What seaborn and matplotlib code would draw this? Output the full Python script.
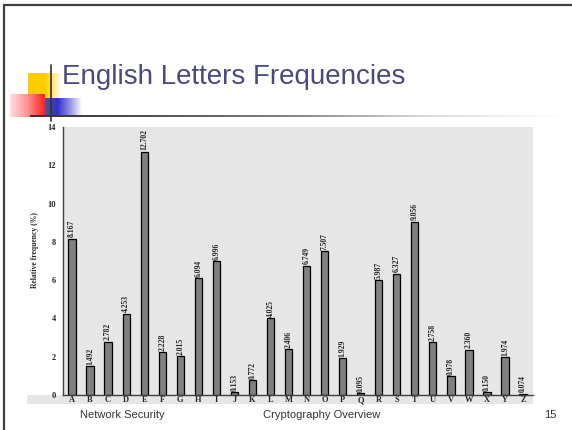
import numpy as np
import matplotlib as mpl
mpl.use('Agg')
import matplotlib.pyplot as plt
from matplotlib.colors import LinearSegmentedColormap
import seaborn as sns

letters = list('ABCDEFGHIJKLMNOPQRSTUVWXYZ')
freqs = [8.167, 1.492, 2.782, 4.253, 12.702, 2.228, 2.015, 6.094, 6.996, 0.153,
         0.772, 4.025, 2.406, 6.749, 7.507, 1.929, 0.095, 5.987, 6.327, 9.056,
         2.758, 0.978, 2.360, 0.150, 1.974, 0.074]
yticks = [0, 2, 4, 6, 8, 10, 12, 14]

title = 'English Letters Frequencies'
footer_left = 'Network Security'
footer_mid = 'Cryptography Overview'
page_no = '15'

sns.set_style('white')
plt.rcParams['font.family'] = ['Liberation Sans', 'DejaVu Sans']

W, H = 572, 430
fig = plt.figure(figsize=(W / 100, H / 100), dpi=100)

# slide decoration layer, in pixel coords
deco = fig.add_axes([0, 0, 1, 1])
deco.set_xlim(0, W)
deco.set_ylim(H, 0)
deco.axis('off')
deco.set_zorder(0)


def grad(x0, x1, y0, y1, colors):
    cmap = LinearSegmentedColormap.from_list('g', colors)
    deco.imshow(np.linspace(0, 1, 256)[None, :], cmap=cmap, aspect='auto',
                extent=(x0, x1, y1, y0), interpolation='bilinear')


# borders
deco.plot([3, W], [5, 5], color='#404040', lw=1.6, solid_capstyle='butt')
deco.plot([4, 4], [4, H], color='#404040', lw=1.6, solid_capstyle='butt')

# title bullet squares
grad(28, 62, 73, 108, ['#ffcc00', '#ffcc00', '#ffcc00', '#ffe680', '#ffffff'])
grad(10, 45, 94, 117, ['#ffe0e0', '#ff9090', '#ff2020'])
grad(45, 82, 98, 117, ['#55558a', '#3030c8', '#9090e8', '#ffffff'])
deco.plot([51, 51], [65, 121], color='#333333', lw=1.2)
grad(30, 565, 115, 117, ['#333333', '#555555', '#888888', '#dddddd', '#ffffff'])

# chart background strip under axis (tick labels)
deco.add_patch(plt.Rectangle((27, 395), 506, 9, color='#e6e6e6', lw=0))

fig.text(62 / W, 1 - 77 / H, title, fontsize=20, color='#4a4a7c',
         va='center', ha='left', family=['Liberation Sans', 'DejaVu Sans'])

# chart
ax = fig.add_axes([63 / W, 1 - 395 / H, (533 - 63) / W, (395 - 127) / H])
ax.set_zorder(1)
ax.set_facecolor('#e6e6e6')
sns.barplot(x=letters, y=freqs, ax=ax, color='#808080', saturation=1,
            width=0.4, edgecolor='black', linewidth=0.9)
ax.bar_label(ax.containers[0], labels=[f'{v:.3f}' for v in freqs],
             rotation=90, fontsize=5.5, padding=1, fontweight='bold',
             family=['Liberation Serif', 'DejaVu Serif'])
ax.set_xlim(-0.5, 25.55)
ax.set_ylim(0, 14)
ax.set_yticks(yticks)
for lab in ax.get_xticklabels() + ax.get_yticklabels():
    lab.set_family(['Liberation Serif', 'DejaVu Serif'])
    lab.set_fontweight('bold')
    lab.set_fontsize(6)
ax.tick_params(axis='y', length=0, pad=5)
ax.tick_params(axis='x', length=0, pad=1)
ax.set_xlabel('')
ax.set_ylabel('')
for s in ['top', 'right']:
    ax.spines[s].set_visible(False)
for s in ['left', 'bottom']:
    ax.spines[s].set_color('#404040')
    ax.spines[s].set_linewidth(1.0)

fig.text(35 / W, 1 - 250 / H, 'Relative frequency (%)', rotation=90,
         fontsize=5.5, fontweight='bold', ha='center', va='center',
         family=['Liberation Serif', 'DejaVu Serif'])

# footer
fig.text(122 / W, 1 - 415 / H, footer_left, fontsize=8, color='#333333',
         ha='center', va='center')
fig.text(322 / W, 1 - 415 / H, footer_mid, fontsize=8, color='#333333',
         ha='center', va='center')
fig.text(550 / W, 1 - 415 / H, page_no, fontsize=8, color='#333333',
         ha='center', va='center')

fig.savefig('out.png', dpi=100)
